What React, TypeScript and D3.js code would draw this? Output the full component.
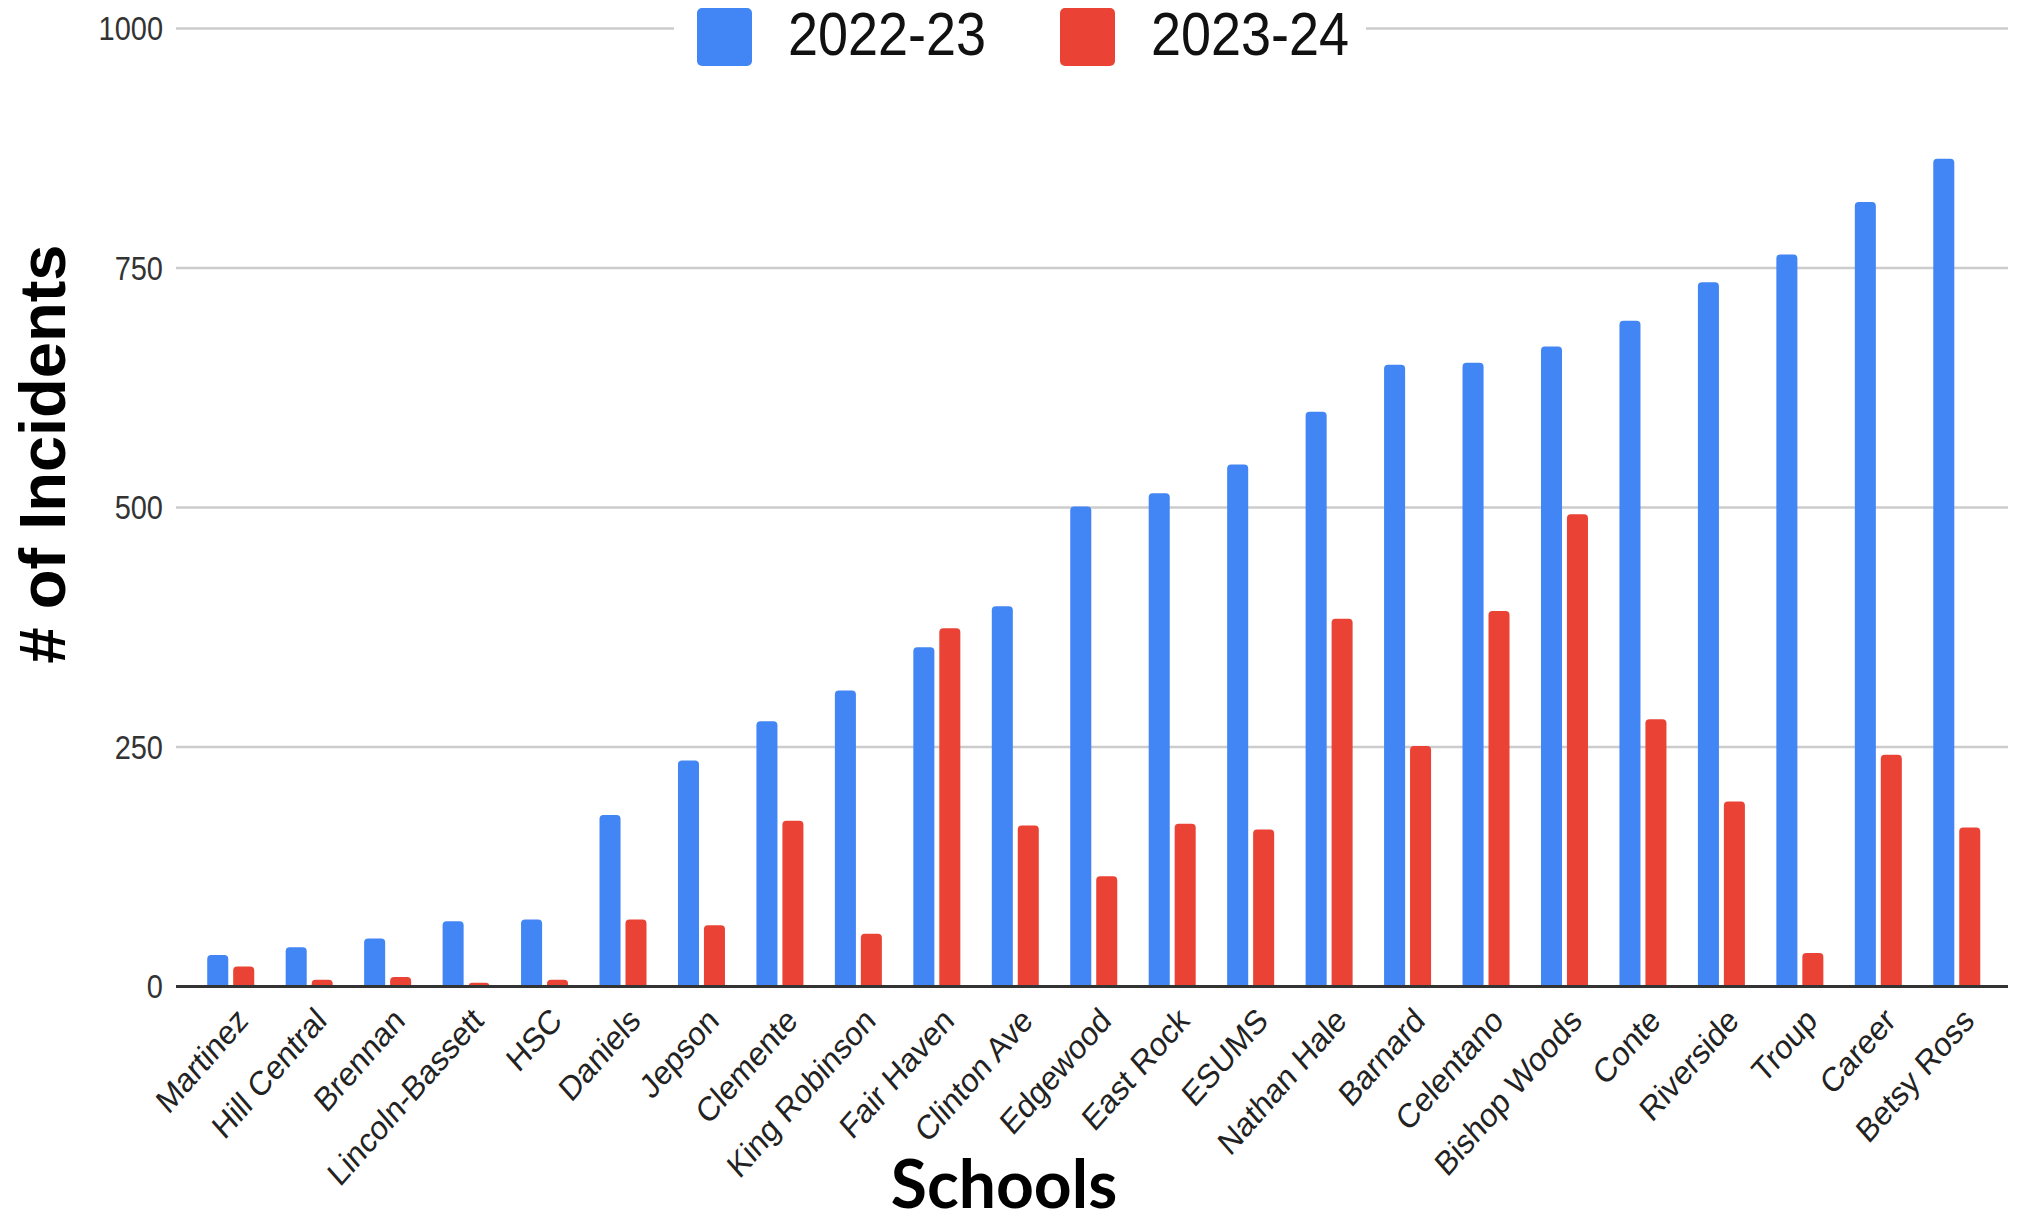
import React from "react";
import * as d3 from "d3";

const schools = [
  "Martinez", "Hill Central", "Brennan", "Lincoln-Bassett", "HSC", "Daniels", "Jepson",
  "Clemente", "King Robinson", "Fair Haven", "Clinton Ave", "Edgewood", "East Rock", "ESUMS",
  "Nathan Hale", "Barnard", "Celentano", "Bishop Woods", "Conte", "Riverside", "Troup",
  "Career", "Betsy Ross",
];
const series = ["2022-23", "2023-24"];
const values2223 = [33, 41, 50, 68, 70, 179, 236, 277, 309, 354, 397, 501, 515, 545, 600, 649, 651, 668, 695, 735, 764, 819, 864];
const values2324 = [21, 7, 10, 4, 7, 70, 64, 173, 55, 374, 168, 115, 170, 164, 384, 251, 392, 493, 279, 193, 35, 242, 166];
const yTicks = [0, 250, 500, 750, 1000];
const colors = ["#4285F4", "#EA4335"];

const W = 2017;
const H = 1225;
const PLOT_L = 176;
const PLOT_R = 2008;
const Y0 = 986.5;
const Y1000 = 28.5;
const STRETCH = 1.14;

function topRounded(x: number, y: number, w: number, h: number, r: number) {
  const rr = Math.min(r, h, w / 2);
  return `M${x},${y + h}V${y + rr}Q${x},${y} ${x + rr},${y}H${x + w - rr}Q${x + w},${y} ${x + w},${y + rr}V${y + h}Z`;
}

export default function App() {
  const x0 = d3.scaleBand<string>().domain(schools).range([191.5, 1996]).padding(0);
  const innerW = 47;
  const x1 = d3.scaleBand<string>().domain(series).range([0, innerW]).paddingInner(0.19);
  const y = d3.scaleLinear().domain([0, 1000]).range([Y0, Y1000]);
  const data = [values2223, values2324];
  const font = "'Liberation Sans', Arial, sans-serif";

  return (
    <svg width={W} height={H} style={{ position: "absolute", left: 0, top: 0, background: "#fff" }}>
      <rect x={0} y={0} width={W} height={H} fill="#fff" />
      {yTicks.filter((t) => t !== 0).map((t) => (
        <line key={t} x1={PLOT_L} x2={PLOT_R} y1={y(t)} y2={y(t)} stroke="#cccccc" strokeWidth={2.5} />
      ))}
      {yTicks.map((t) => (
        <text
          key={"l" + t}
          transform={`translate(163,${y(t)}) scale(1,${STRETCH})`}
          textAnchor="end"
          dy="0.36em"
          fontFamily={font}
          fontSize={29}
          fill="#333"
        >
          {t}
        </text>
      ))}
      {schools.map((s, i) => {
        const gx = (x0(s) as number) + (x0.bandwidth() - innerW) / 2;
        return (
          <g key={s}>
            {series.map((k, j) => {
              const v = data[j][i];
              const bx = gx + (x1(k) as number);
              const by = y(v);
              return <path key={k} d={topRounded(bx, by, x1.bandwidth(), Y0 - by, 4)} fill={colors[j]} />;
            })}
          </g>
        );
      })}
      <line x1={PLOT_L} x2={PLOT_R} y1={Y0} y2={Y0} stroke="#333" strokeWidth={3} />
      {schools.map((s) => {
        const cx = (x0(s) as number) + x0.bandwidth() / 2;
        return (
          <text
            key={"x" + s}
            transform={`translate(${cx + 19},${Y0 + 36}) scale(1,${STRETCH}) rotate(-45)`}
            textAnchor="end"
            fontFamily={font}
            fontSize={30}
            fill="#222"
          >
            {s}
          </text>
        );
      })}
      {/* legend */}
      <rect x={674} y={0} width={692} height={92} fill="#fff" />
      {series.map((k, j) => {
        const bx = j === 0 ? 697 : 1060;
        return (
          <g key={"lg" + k}>
            <rect x={bx} y={8} width={55} height={58} rx={5} fill={colors[j]} />
            <text
              transform={`translate(${bx + 91},55) scale(1,${STRETCH})`}
              fontFamily={font}
              fontSize={54}
              fill="#111"
            >
              {k}
            </text>
          </g>
        );
      })}
      <text
        transform="translate(65,454) rotate(-90)"
        textAnchor="middle"
        fontFamily={font}
        fontWeight="bold"
        fontSize={65}
        fill="#000"
      >
        # of Incidents
      </text>
      <text
        x={1004}
        y={1208}
        textAnchor="middle"
        fontFamily="Lato, 'Liberation Sans', sans-serif"
        fontWeight="bold"
        fontSize={66}
        fill="#000"
      >
        Schools
      </text>
    </svg>
  );
}
